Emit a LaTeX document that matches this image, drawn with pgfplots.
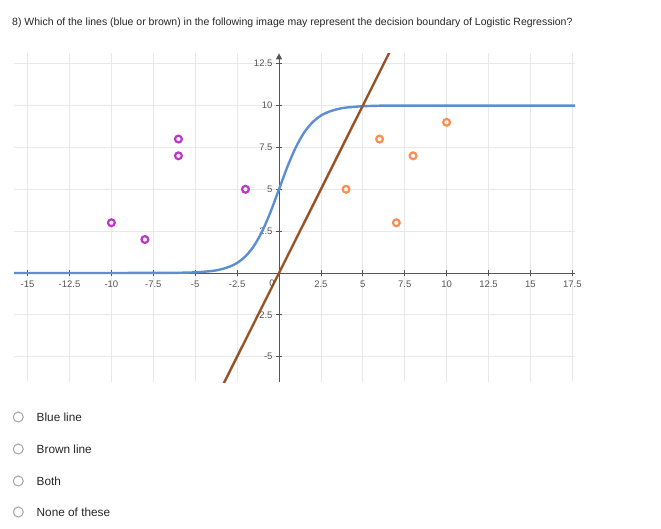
\documentclass[border=0pt]{standalone}
\usepackage{fontspec}
\setmainfont{Liberation Sans}
\usepackage{pgfplots}
\pgfplotsset{compat=1.18}
\usetikzlibrary{arrows.meta}

\definecolor{curveblue}{RGB}{92,142,212}
\definecolor{linebrown}{RGB}{152,82,38}
\definecolor{ptpurple}{RGB}{192,52,204}
\definecolor{ptorange}{RGB}{250,142,80}
\definecolor{ticktext}{RGB}{85,85,85}
\definecolor{gridgray}{RGB}{232,232,232}

\begin{document}
\begin{tikzpicture}[x=1pt,y=1pt]
  % page frame in pixel units
  \fill[white] (0pt,0pt) rectangle (661pt,-528pt);

  \node[anchor=west, inner sep=0pt, font=\fontsize{10.5}{12}\selectfont, text=black!85]
    at (12pt,-23pt) {8) Which of the lines (blue or brown) in the following image may represent the decision boundary of Logistic Regression?};

  \begin{axis}[
    at={(279pt,-273pt)}, anchor=origin,
    scale only axis, width=561pt, height=329pt,
    xmin=-15.8, xmax=17.67, ymin=-6.53, ymax=13.12,
    axis lines=middle,
    x axis line style={-, draw=ticktext, line width=0.9pt},
    y axis line style={-{Triangle[length=6pt,width=6pt]}, draw=ticktext, line width=0.9pt},
    xtick={-15,-12.5,-10,-7.5,-5,-2.5,2.5,5,7.5,10,12.5,15,17.5},
    ytick={-5,-2.5,2.5,5,7.5,10,12.5},
    tick align=center, major tick length=6pt,
    tick style={draw=ticktext, line width=0.8pt},
    grid=major, major grid style={draw=gridgray, line width=0.8pt},
    /pgf/number format/assume math mode=true,
    tick label style={font=\fontsize{9.5}{11}\selectfont, text=ticktext},
    xticklabel style={yshift=-1pt},
    clip=true,
  ]
    % sigmoid-shaped curve
    \addplot[curveblue, line width=2.4pt, smooth] coordinates {
      (-16,0) (-7,0.005) (-6,0.014) (-5,0.041) (-4,0.12) (-3.5,0.21) (-3,0.36)
      (-2.5,0.6) (-2,1.0) (-1.5,1.61) (-1,2.5) (-0.5,3.66) (0,5) (0.5,6.34)
      (1,7.5) (1.5,8.39) (2,9.0) (2.5,9.4) (3,9.64) (3.5,9.79) (4,9.88)
      (5,9.96) (6,9.99) (7,10) (18,10)
    };
    % straight line
    \addplot[linebrown, line width=2.4pt] coordinates {(-3.5,-7) (7,14)};
    % class A points
    \addplot[only marks, mark=o, mark size=3.4pt,
      mark options={draw=ptpurple, line width=2.2pt}] coordinates {
      (-10,3) (-8,2) (-6,8) (-6,7) (-2,5)
    };
    % class B points
    \addplot[only marks, mark=o, mark size=3.4pt,
      mark options={draw=ptorange, line width=2.2pt}] coordinates {
      (4,5) (6,8) (7,3) (8,7) (10,9)
    };
    \node[font=\fontsize{9.5}{11}\selectfont, text=ticktext]
      at ([xshift=-7pt,yshift=-10pt]axis cs:0,0) {0};
  \end{axis}

  % answer options
  \foreach \yy/\lab in {417/Blue line, 449/Brown line, 481/Both, 512/None of these}{
    \draw[gray!70, line width=1pt] (18.3pt,-\yy pt) circle (5pt);
    \node[anchor=west, inner sep=0pt, font=\fontsize{11.8}{13}\selectfont, text=black!85]
      at (36.5pt,-\yy pt) {\lab};
  }
\end{tikzpicture}
\end{document}
